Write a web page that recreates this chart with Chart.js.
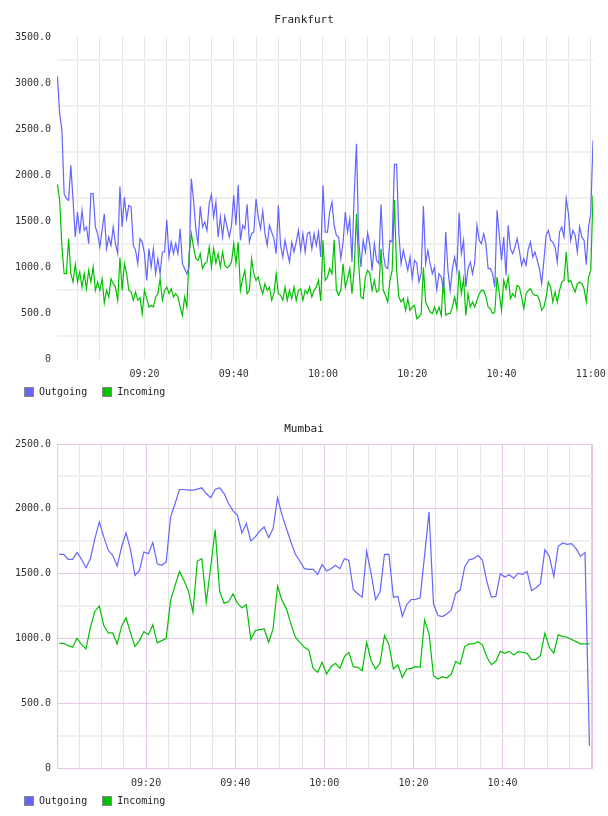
<!DOCTYPE html>
<html lang="en">
  <head>
    <meta charset="UTF-8" />
    <title>Traffic</title>
    <script src="https://cdn.jsdelivr.net/npm/chart.js"></script>
    <style>
      body {
        margin: 0;
        background: #fff;
        width: 608px;
        height: 816px;
        overflow: hidden;
        position: relative;
        font-family: "DejaVu Sans Mono", monospace;
      }
      .chart-box {
        position: absolute;
        left: 0;
        width: 608px;
        height: 408px;
      }
      .chart-box canvas {
        display: block;
      }
      .legend {
        position: absolute;
        left: 24px;
        top: 387px;
        display: flex;
        align-items: center;
        font-size: 10px;
        line-height: 10px;
        color: #222;
      }
      .legend .item {
        display: flex;
        align-items: center;
        margin-right: 15px;
      }
      .legend .box {
        width: 10px;
        height: 10px;
        box-sizing: border-box;
        border: 1px solid #888;
        margin-right: 5px;
      }
    </style>
  </head>
  <body>
    <div class="chart-box" style="top: 0">
      <canvas id="frankfurtChart" width="608" height="408"></canvas>
      <div class="legend" id="frankfurtLegend"></div>
    </div>
    <div class="chart-box" style="top: 408px">
      <canvas id="mumbaiChart" width="608" height="408"></canvas>
      <div class="legend" id="mumbaiLegend" style="top: 388px"></div>
    </div>

    <script>
      // series names
      const seriesNames = ["Outgoing", "Incoming"];

      // time labels shown under each chart
      const frankfurtTimeLabels = ["09:20", "09:40", "10:00", "10:20", "10:40", "11:00"];
      const mumbaiTimeLabels = ["09:20", "09:40", "10:00", "10:20", "10:40"];

      // Frankfurt: one sample every 30 s, starting 09:00:30 (minutes after 09:00)
      const frankfurtStart = 0.5;
      const frankfurtStep = 0.5;

      const frankfurtOutgoing = [
        3072, 2666, 2485, 1797, 1742, 1724, 2105, 1724, 1326, 1598,
        1362, 1616, 1398, 1435, 1253, 1797, 1797, 1435, 1362, 1217,
        1398, 1579, 1199, 1326, 1235, 1435, 1253, 1145,
        1876,
        1435, 1761, 1525, 1670, 1652, 1235, 1181, 1036, 1308, 1271,
        1145, 855, 1199, 1000, 1199, 927, 1090, 927, 1163, 1163,
        1514, 1108, 1271, 1145, 1253, 1145, 1416, 1036, 982, 927,
        1000,
        1960,
        1724, 1416, 1253, 1659, 1435, 1489, 1398, 1688, 1790, 1543,
        1706, 1326, 1543, 1326, 1550, 1435, 1326, 1453, 1779, 1453,
        1895,
        1290, 1453, 1416, 1681, 1271, 1362, 1380, 1742, 1543, 1416,
        1608, 1362, 1235, 1453, 1380, 1308, 1145, 1670, 1235, 1108,
        1290, 1163, 1054, 1271, 1163, 1271, 1398, 1181, 1362, 1163,
        1362, 1380, 1199, 1362, 1235, 1380, 1108,
        1887,
        1380, 1380, 1598, 1706, 1453, 1344, 1326, 1090, 1271, 1598,
        1380, 1525, 1054, 1797,
        2340,
        1290, 1000, 1290, 1163, 1370, 1235, 963, 1253, 1072, 1036,
        1681, 1145, 1000, 982, 1290, 1271,
        2116, 2116,
        1362, 1036, 1181, 1072, 963, 1108, 873, 1072, 1043, 837, 927,
        1663,
        1036, 1181, 1036, 927, 1000, 753, 927, 891, 753, 1380,
        963, 746, 982, 1108, 963,
        1590,
        1145, 1290, 782, 982, 1054, 927, 1054, 1453, 1290, 1253,
        1362, 1253, 982, 982, 927, 782,
        1616,
        1344, 1072, 1326, 909, 1453, 1199, 1145, 1217, 1308, 1181,
        1018, 1090, 1018, 1199, 1271, 1108, 1163, 1072, 982, 819,
        1072, 1344, 1398, 1290, 1271, 1217, 1054, 1380, 1435, 1326,
        1742,
        1579, 1290, 1398, 1344, 1163, 1435, 1326, 1290, 1025, 1435, 1579,
        2376,
      ];

      const frankfurtIncoming = [
        1898, 1724, 1217, 927, 927, 1308, 927, 837, 1029, 837,
        945, 782, 927, 764, 963, 837, 1000, 746, 837, 746,
        873, 608, 746, 674, 873, 819, 782, 638,
        1101,
        746, 1036, 927, 746, 728, 638, 728, 638, 667, 493,
        746, 656, 565, 583, 565, 674, 710, 873, 638, 746,
        782, 710, 764, 674, 710, 674, 565, 474, 674, 565,
        1145, 1362,
        1217, 1090, 1072, 1145, 982, 1036, 1054, 1217, 1000, 1199,
        1043, 1145, 1000, 1163, 1018, 992, 1007, 1054, 1253, 1036,
        1271,
        746, 873, 963, 710, 746, 1090, 927, 855, 891, 782,
        710, 819, 746, 782, 638, 710, 927, 710, 692, 638,
        782, 638, 746, 656, 782, 638, 746, 764, 638, 746,
        710, 782, 674, 746, 782, 855, 630,
        1290,
        855, 891, 982, 927, 1297, 746, 692, 746, 1036, 782,
        873, 982, 710, 982,
        1579,
        1036, 674, 656, 891, 963, 927, 746, 855, 728, 746,
        1199, 746, 692, 619, 855, 963,
        1731,
        963, 674, 619, 656, 529, 656, 529, 565, 583, 438, 456, 493,
        993,
        619, 565, 511, 493, 565, 493, 565, 474, 891, 474,
        493, 493, 565, 674, 547,
        963,
        710, 873, 474, 710, 565, 619, 565, 638, 710, 746,
        746, 674, 565, 547, 493, 511,
        891,
        710, 529, 855, 764, 891, 656, 710, 674, 801, 782,
        674, 547, 710, 746, 764, 710, 692, 692, 638, 529,
        565, 674, 837, 782, 619, 728, 619, 746, 837, 855,
        1163,
        837, 855, 782, 728, 819, 837, 819, 764, 619, 891, 963,
        1779,
      ];

      // Mumbai: one sample per minute
      const mumbaiStart = 0.5;
      const mumbaiStep = 1;

      const mumbaiOutgoing = [
        1649, 1649, 1610, 1610, 1664, 1610, 1545, 1615, 1770, 1899,
        1783, 1680, 1641, 1558, 1705, 1814, 1685, 1486, 1525, 1667,
        1654, 1739, 1576, 1564, 1589, 1938, 2041, 2149, 2149, 2144,
        2144, 2152, 2162, 2118, 2085, 2149, 2162, 2118, 2041, 1984,
        1951, 1814, 1886, 1752, 1783, 1829, 1860, 1778, 1847, 2087,
        1951, 1847, 1744, 1649, 1597, 1538, 1533, 1533, 1494,
        1571, 1520, 1538, 1564, 1538, 1615, 1602, 1375, 1344, 1318,
        1672, 1499, 1300, 1357, 1649, 1649, 1318, 1324, 1169, 1262,
        1300, 1300, 1313, 1641, 1976, 1267, 1177, 1169, 1189, 1220,
        1349, 1375, 1551, 1607, 1615, 1641, 1602, 1435, 1318, 1324,
        1499, 1473, 1491, 1465, 1504, 1494, 1517, 1370, 1391, 1422,
        1685, 1633, 1478, 1711, 1736, 1726, 1731, 1692, 1633, 1662,
        170,
      ];

      const mumbaiIncoming = [
        962, 962, 944, 931, 1001, 952, 919, 1086, 1210, 1249,
        1099, 1042, 1042, 957, 1094, 1158, 1042, 937, 983, 1053,
        1029, 1104, 965, 983, 1001, 1293, 1409, 1517, 1447, 1365,
        1202, 1597, 1615, 1280, 1551, 1840, 1365, 1272, 1282, 1344,
        1272, 1236, 1259, 991, 1060, 1068, 1073, 970, 1073, 1404,
        1293, 1228, 1112, 1009, 970, 931, 911, 769, 738,
        815, 725, 782, 808, 769, 859, 893, 782, 777, 751,
        970, 828, 764, 808, 1022, 952, 764, 797, 699, 764,
        769, 782, 777, 1143, 1035, 712, 686, 704, 694, 725,
        823, 802, 937, 957, 957, 975, 949, 854, 797, 823,
        900, 885, 900, 872, 898, 893, 885, 836, 838, 867,
        1040, 931, 885, 1027, 1014, 1009, 991, 975, 957, 957,
        957,
      ];

      const seriesColors = ["#6464ff", "#00c000"];
      const purple = "#e3c9e6";
      const font = { family: "DejaVu Sans Mono", size: 10 };

      function toPoints(values, start, step) {
        return values.map((v, i) => ({ x: start + i * step, y: v }));
      }

      function timeText(minutes) {
        const m = Math.round(minutes);
        const h = 9 + Math.floor(m / 60);
        const mm = m % 60;
        return String(h).padStart(2, "0") + ":" + String(mm).padStart(2, "0");
      }

      // border round the plot area (Mumbai)
      const frameBorder = {
        id: "frameBorder",
        afterDraw(chart, args, opts) {
          if (!opts.color) return;
          const { ctx, chartArea } = chart;
          ctx.save();
          ctx.strokeStyle = opts.color;
          ctx.lineWidth = 1;
          ctx.strokeRect(
            Math.round(chartArea.left) + 0.5,
            Math.round(chartArea.top) + 0.5,
            Math.round(chartArea.right - chartArea.left) - 1,
            Math.round(chartArea.bottom - chartArea.top)
          );
          ctx.restore();
        },
      };

      function buildLegend(id) {
        const el = document.getElementById(id);
        seriesNames.forEach((name, i) => {
          const item = document.createElement("span");
          item.className = "item";
          const box = document.createElement("span");
          box.className = "box";
          box.style.background = seriesColors[i];
          item.appendChild(box);
          item.appendChild(document.createTextNode(name));
          el.appendChild(item);
        });
      }

      function makeChart(cfg) {
        const ctx = document.getElementById(cfg.canvas).getContext("2d");
        return new Chart(ctx, {
          type: "line",
          data: {
            datasets: cfg.series.map((values, i) => ({
              label: seriesNames[i],
              data: toPoints(values, cfg.start, cfg.step),
              borderColor: seriesColors[i],
              backgroundColor: seriesColors[i],
              borderWidth: 1.2,
              pointRadius: 0,
              tension: 0,
              fill: false,
            })),
          },
          plugins: [frameBorder],
          options: {
            responsive: false,
            animation: false,
            devicePixelRatio: 1,
            parsing: false,
            layout: { padding: { left: 0, right: 0, top: 0, bottom: cfg.bottomPad } },
            plugins: {
              legend: { display: false },
              tooltip: { enabled: false },
              frameBorder: { color: cfg.frame },
              title: {
                display: true,
                text: cfg.title,
                color: "#222",
                font: { family: "DejaVu Sans Mono", size: 11, weight: "normal" },
                padding: cfg.titlePad,
              },
            },
            scales: {
              x: {
                type: "linear",
                min: cfg.xMin,
                max: cfg.xMax,
                border: { display: false },
                grid: {
                  drawTicks: false,
                  color: (c) =>
                    cfg.frame && c.tick && c.tick.value % 20 === 0 ? purple : "#e4e4e4",
                  lineWidth: 1,
                },
                ticks: {
                  stepSize: 5,
                  includeBounds: false,
                  autoSkip: false,
                  maxRotation: 0,
                  minRotation: 0,
                  padding: 9,
                  color: "#333",
                  font: font,
                  callback: (value) => {
                    const t = timeText(value);
                    return cfg.timeLabels.includes(t) ? t : "";
                  },
                },
                afterFit: (scale) => {
                  scale.paddingLeft = 0;
                  scale.paddingRight = 15;
                },
              },
              y: {
                min: 0,
                max: cfg.yMax,
                border: { display: false },
                grid: {
                  drawTicks: false,
                  offset: cfg.yOffsetGrid,
                  color: (c) =>
                    cfg.frame && c.tick && c.tick.value % 500 === 0 ? purple : "#efefef",
                  lineWidth: (c) =>
                    cfg.frame && c.tick && c.tick.value % 500 === 0 ? 1 : 2,
                },
                ticks: {
                  stepSize: cfg.yStep,
                  padding: 6,
                  color: "#333",
                  font: font,
                  callback: (value) => {
                    if (value % 500 !== 0) return "";
                    return value === 0 ? "0" : value.toFixed(1);
                  },
                },
                afterFit: (scale) => {
                  scale.width = 57;
                },
              },
            },
          },
        });
      }

      makeChart({
        canvas: "frankfurtChart",
        title: "Frankfurt",
        series: [frankfurtOutgoing, frankfurtIncoming],
        start: frankfurtStart,
        step: frankfurtStep,
        xMin: 0.4,
        xMax: 120.5,
        yMax: 3500,
        yStep: 500,
        yOffsetGrid: true,
        timeLabels: frankfurtTimeLabels,
        titlePad: { top: 13.4, bottom: 10.4 },
        bottomPad: 19,
        frame: null,
      });

      makeChart({
        canvas: "mumbaiChart",
        title: "Mumbai",
        series: [mumbaiOutgoing, mumbaiIncoming],
        start: mumbaiStart,
        step: mumbaiStep,
        xMin: 0,
        xMax: 120.3,
        yMax: 2500,
        yStep: 250,
        yOffsetGrid: false,
        timeLabels: mumbaiTimeLabels,
        titlePad: { top: 14.4, bottom: 8.4 },
        bottomPad: 18,
        frame: purple,
      });

      buildLegend("frankfurtLegend");
      buildLegend("mumbaiLegend");
    </script>
  </body>
</html>
